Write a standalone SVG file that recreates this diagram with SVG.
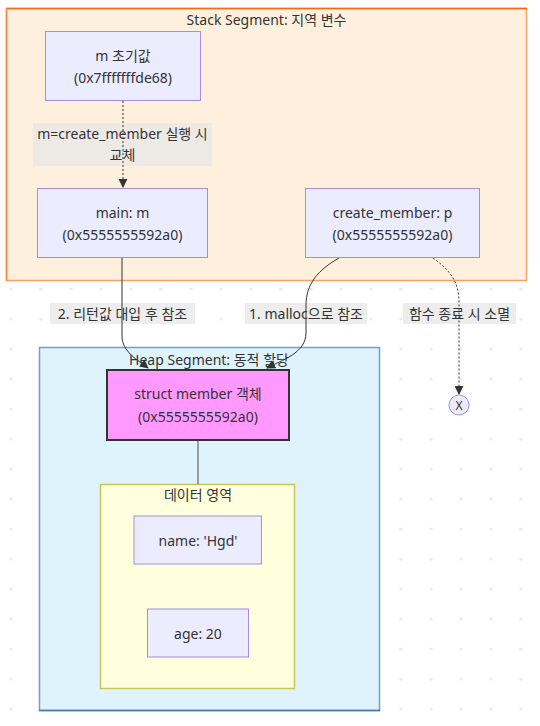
<svg xmlns="http://www.w3.org/2000/svg" width="540" height="726" viewBox="0 0 540 726">
<defs>
<pattern id="dots" x="0" y="0" width="30" height="30" patternUnits="userSpaceOnUse">
<circle cx="11" cy="19" r="1.6" fill="#e9e9e9"/>
</pattern>
<marker id="arr" viewBox="0 0 10 10" refX="9" refY="5" markerWidth="9" markerHeight="9" markerUnits="userSpaceOnUse" orient="auto">
<path d="M0,0 L10,5 L0,10 z" fill="#333"/>
</marker>
<style>
text{font-family:"Noto Sans","Noto Sans CJK KR",sans-serif;font-size:14px;fill:#333;text-anchor:middle;dominant-baseline:central}
.node{fill:#ececff;stroke:#a98be0;stroke-width:1}
.lbl{fill:#e8e8e8;fill-opacity:0.8}
.edge{fill:none;stroke:#333;stroke-width:1}
.dot{stroke-dasharray:2 2}
</style>
</defs>
<rect width="540" height="726" fill="#fff"/>
<rect width="540" height="726" fill="url(#dots)"/>

<g id="stack">
<rect x="6.5" y="8.5" width="520" height="272" fill="#fff0dd" stroke="#f4a06c" stroke-width="1.5"/>
<line x1="6" y1="8.5" x2="527" y2="8.5" stroke="#f06a20" stroke-width="1.5"/>
<line x1="6.5" y1="8" x2="6.5" y2="281" stroke="#f3884a" stroke-width="1.5"/>
<text x="266.5" y="19">Stack Segment: 지역 변수</text>
</g>

<g id="heap">
<rect x="39.5" y="347.5" width="340" height="363" fill="#dff3fc" stroke="#6e9fcd" stroke-width="1.5"/>
<line x1="39" y1="710.5" x2="380" y2="710.5" stroke="#4a78a8" stroke-width="1.5"/>
<text x="209" y="359">Heap Segment: 동적 할당</text>
</g>

<g id="data">
<rect x="100.5" y="484.5" width="194" height="204" fill="#ffffde" stroke="#c8c65a" stroke-width="1.5"/>
<text x="198" y="494">데이터 영역</text>
</g>

<g id="labels-bg">
<rect class="lbl" x="33" y="123" width="179" height="43"/>
<rect class="lbl" x="50" y="303" width="145" height="21"/>
<rect class="lbl" x="245" y="303" width="122" height="21"/>
<rect class="lbl" x="403" y="303" width="113" height="21"/>
</g>

<g id="connectors">
<path class="edge dot" d="M123,101 L123,187" marker-end="url(#arr)"/>
<path class="edge" d="M122,258 L122,336 C122,352 138,360 148,368" marker-end="url(#arr)"/>
<path class="edge" d="M339,258 C318,270 306,284 306,305 L306,333 C306,353 282,360 267,368" marker-end="url(#arr)"/>
<path class="edge dot" d="M433,258 C450,270 459,282 459,302 L459,394" marker-end="url(#arr)"/>
<line x1="198" y1="440" x2="198" y2="484" stroke="#666" stroke-width="1.2"/>
</g>

<g id="labels">
<text x="122.5" y="133">m=create_member 실행 시</text>
<text x="122.5" y="154">교체</text>
<text x="122.5" y="313">2. 리턴값 대입 후 참조</text>
<text x="306" y="313">1. malloc으로 참조</text>
<text x="459.5" y="313">함수 종료 시 소멸</text>
</g>

<g id="m-init">
<rect class="node" x="45.5" y="31.5" width="155" height="69"/>
<text x="123" y="55">m 초기값</text>
<text x="123" y="77">(0x7fffffffde68)</text>
</g>

<g id="main-m">
<rect class="node" x="37.5" y="188.5" width="170" height="69"/>
<text x="122.5" y="212">main: m</text>
<text x="122.5" y="234">(0x5555555592a0)</text>
</g>

<g id="create-p">
<rect class="node" x="305.5" y="188.5" width="174" height="69"/>
<text x="392.5" y="212">create_member: p</text>
<text x="392.5" y="234">(0x5555555592a0)</text>
</g>

<g id="end">
<circle cx="459" cy="405" r="10" fill="#ececff" stroke="#a98be0" stroke-width="1"/>
<text x="459" y="405" style="font-size:12px">X</text>
</g>

<g id="struct">
<rect x="107" y="370" width="182" height="70" fill="#ff99ff" stroke="#333" stroke-width="2"/>
<text x="198" y="393">struct member 객체</text>
<text x="198" y="416">(0x5555555592a0)</text>
</g>

<g id="name">
<rect class="node" x="134" y="516" width="127.5" height="48"/>
<text x="198" y="540">name: 'Hgd'</text>
</g>

<g id="age">
<rect class="node" x="147.5" y="609" width="101" height="48"/>
<text x="198" y="633">age: 20</text>
</g>
</svg>
